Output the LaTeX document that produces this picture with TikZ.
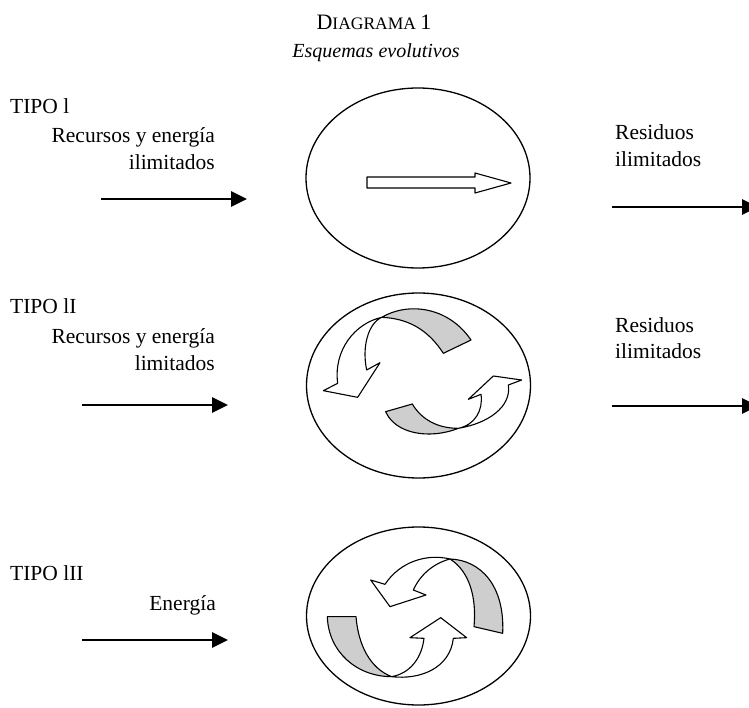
\documentclass[tikz,border=0pt]{standalone}
\usepackage{fontspec}
\setmainfont{Liberation Serif}
\usetikzlibrary{arrows.meta,shapes.geometric}
\definecolor{bandgray}{RGB}{206,206,206}
\begin{document}
\begin{tikzpicture}[x=1pt,y=-1pt,
  txt/.style={inner sep=0pt, font=\fontsize{21.5}{24}\selectfont},
  flow/.style={line width=2.7pt, -{Triangle[length=16pt,width=15pt]}},
  cell/.style={draw, ellipse, line width=1.3pt, inner sep=0pt, minimum width=224pt},
  band/.style={draw, line width=1.1pt, line join=round},
  back/.style={band, fill=bandgray},
  front/.style={band, fill=white}]
\useasboundingbox (0,0) rectangle (749,708);
\clip (0,0) rectangle (749,708);

% title
\node[anchor=base, inner sep=0pt] (title) at (374,30) {\fontsize{22}{24}\selectfont D\fontsize{17.5}{20}\selectfont IAGRAMA \fontsize{22}{24}\selectfont 1};
\node[anchor=base, inner sep=0pt, font=\fontsize{20}{22}\selectfont\itshape] (subtitle) at (376,58) {Esquemas evolutivos};

% ---------- TIPO I
\node[txt, anchor=base west] (t1) at (10,114) {TIPO l};
\node[txt, anchor=base east] (r1a) at (215,143) {Recursos y energía};
\node[txt, anchor=base east] (r1b) at (215,170) {ilimitados};
\node[txt, anchor=base west] (w1a) at (615,140) {Residuos};
\node[txt, anchor=base west] (w1b) at (615,167) {ilimitados};
\node[cell, minimum height=180pt] (e1) at (418,178) {};
\draw[front] (367,177) -- (475,177) -- (475,173) -- (511,183) -- (475,193) -- (475,188) -- (367,188) -- cycle;
\coordinate (i1s) at (101,199);
\coordinate (i1e) at (247,199);
\coordinate (o1s) at (612,207);
\coordinate (o1e) at (758,207);
\draw[flow] (i1s) -- (i1e);
\draw[flow] (o1s) -- (o1e);

% ---------- TIPO II
\node[txt, anchor=base west] (t2) at (10,313) {TIPO lI};
\node[txt, anchor=base east] (r2a) at (215,343) {Recursos y energía};
\node[txt, anchor=base east] (r2b) at (215,370) {limitados};
\node[txt, anchor=base west] (w2a) at (615,332) {Residuos};
\node[txt, anchor=base west] (w2b) at (615,358) {ilimitados};
\node[cell, minimum height=185pt] (e2) at (418.5,385.5) {};
\begin{scope}[shift={(315,300)}, scale=1/3]
  \draw[back] (200,52) .. controls (280,5) and (400,20) .. (468,120) -- (385,160) .. controls (340,90) and (280,55) .. (200,52) -- cycle;
  \draw[front] (200,52) .. controls (120,70) and (55,150) .. (68,250) -- (25,272) -- (128,292) -- (195,188) -- (155,210) .. controls (140,140) and (160,70) .. (200,52) -- cycle;
  \draw[back] (212,335) .. controls (240,400) and (340,420) .. (430,385) .. controls (370,385) and (320,360) .. (292,312) -- cycle;
  \draw[front] (430,385) .. controls (520,370) and (590,320) .. (580,255) -- (620,240) -- (535,228) -- (460,298) -- (498,283) .. controls (505,330) and (480,375) .. (430,385) -- cycle;
\end{scope}
\coordinate (i2s) at (82,405);
\coordinate (i2e) at (228,405);
\coordinate (o2s) at (612,406);
\coordinate (o2e) at (758,406);
\draw[flow] (i2s) -- (i2e);
\draw[flow] (o2s) -- (o2e);

% ---------- TIPO III
\node[txt, anchor=base west] (t3) at (10,580) {TIPO lII};
\node[txt, anchor=base east] (r3a) at (216,610) {Energía};
\node[cell, minimum height=178pt] (e3) at (418.5,616) {};
\begin{scope}[shift={(320,545)}, scale=1/3]
  \draw[back] (390,42) .. controls (480,45) and (555,120) .. (548,265) -- (462,245) .. controls (470,160) and (450,80) .. (390,42) -- cycle;
  \draw[front] (390,42) .. controls (320,25) and (240,50) .. (195,118) -- (152,105) -- (210,185) -- (318,150) -- (280,135) .. controls (300,90) and (340,55) .. (390,42) -- cycle;
  \draw[back] (22,215) -- (108,215) .. controls (115,300) and (150,370) .. (215,395) .. controls (110,395) and (25,320) .. (22,215) -- cycle;
  \draw[front] (215,395) .. controls (300,405) and (390,370) .. (400,280) -- (440,278) -- (362,218) -- (270,278) -- (312,280) .. controls (305,340) and (270,385) .. (215,395) -- cycle;
\end{scope}
\coordinate (i3s) at (82,640);
\coordinate (i3e) at (228,640);
\draw[flow] (i3s) -- (i3e);
\end{tikzpicture}
\end{document}
